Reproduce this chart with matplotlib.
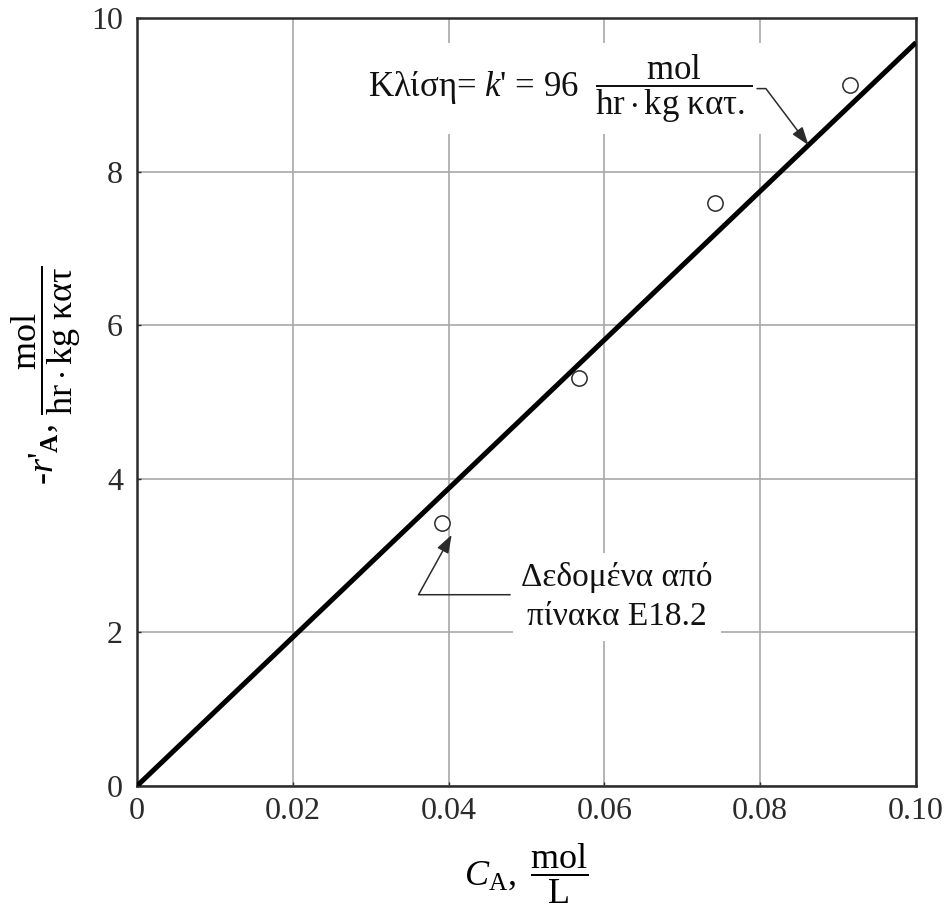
import numpy as np
import matplotlib.pyplot as plt

plt.rcParams['font.family'] = ['Liberation Serif', 'DejaVu Serif']
plt.rcParams['mathtext.fontset'] = 'custom'
plt.rcParams['mathtext.rm'] = 'Liberation Serif'
plt.rcParams['mathtext.it'] = 'Liberation Serif:italic'
plt.rcParams['mathtext.bf'] = 'Liberation Serif:bold'

# data (table E18.2)
conc = [0.0392, 0.0567, 0.0742, 0.0915]
rate = [3.42, 5.31, 7.59, 9.13]

# fitted line through the origin
fit_x = [0.0, 0.10]
fit_y = [0.0, 9.68]

x_ticks = [0, 0.02, 0.04, 0.06, 0.08, 0.10]
x_tick_labels = ['0', '0.02', '0.04', '0.06', '0.08', '0.10']
y_ticks = [0, 2, 4, 6, 8, 10]

dark = '#2b2b2b'

fig = plt.figure(figsize=(9.5, 9.06), dpi=100)
ax = fig.add_axes([0.1442, 0.1325, 0.82, 0.8477])

ax.grid(True, color='#a8a8a8', linewidth=1.2, zorder=0)
ax.plot(fit_x, fit_y, color='black', linewidth=3.6, solid_capstyle='butt', zorder=3)
ax.plot(conc, rate, linestyle='none', marker='o', markersize=11,
        markerfacecolor='white', markeredgecolor=dark, markeredgewidth=1.1, zorder=4)

ax.set_xlim(0, 0.10)
ax.set_ylim(0, 10)
ax.set_xticks(x_ticks)
ax.set_xticklabels(x_tick_labels)
ax.set_yticks(y_ticks)
ax.tick_params(labelsize=23, colors=dark, length=3, direction='in', width=1)
ax.tick_params(axis='x', pad=8)
ax.tick_params(axis='y', pad=10)
for s in ax.spines.values():
    s.set_color(dark)
    s.set_linewidth(1.8)

ax.set_xlabel(r"$C_{\mathrm{A}},\ \dfrac{\mathrm{mol}}{\mathrm{L}}$", fontsize=26, labelpad=11)
ax.set_ylabel(r"-$r$'$_{\mathbf{A}}$, $\dfrac{\mathrm{mol}}{\mathrm{hr\cdot kg\ κατ}}$",
              fontsize=26)
ax.yaxis.set_label_coords(-0.069, 0.535)

wbox = dict(boxstyle='square,pad=0.25', facecolor='white', edgecolor='none')
head = '-|>,head_length=1.1,head_width=0.38'

# slope label
ax.text(0.0297, 9.08, r"Κλίση= $k$' = 96  $\dfrac{\mathrm{mol}}{\mathrm{hr\cdot kg\ κατ.}}$",
        fontsize=25, ha='left', va='center', color='#111', bbox=wbox, zorder=5)
tip_x = 0.0862
ax.annotate('', xy=(tip_x, fit_y[1] / fit_x[1] * tip_x), xytext=(0.0796, 9.08),
            arrowprops=dict(arrowstyle=head, color=dark,
                            linewidth=1.1, shrinkA=0, shrinkB=0,
                            connectionstyle='angle,angleA=0,angleB=127,rad=0'),
            zorder=5)

# data label
ax.text(0.0616, 2.46, "Δεδομένα από\nπίνακα Ε18.2", fontsize=24, ha='center', va='center',
        linespacing=1.4, color='#111', bbox=wbox, zorder=5)
ax.annotate('', xy=(0.0404, 3.27), xytext=(0.0479, 2.49),
            arrowprops=dict(arrowstyle=head, color=dark,
                            linewidth=1.1, shrinkA=0, shrinkB=0,
                            connectionstyle='angle,angleA=0,angleB=61,rad=0'),
            zorder=5)

fig.savefig('out.png', dpi=100)
